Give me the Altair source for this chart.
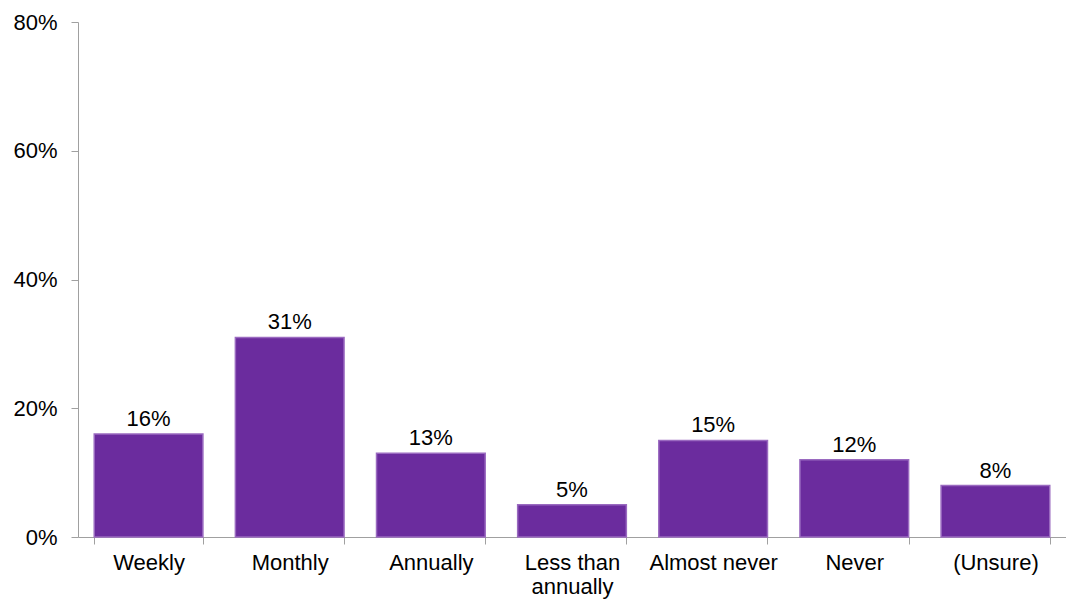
import altair as alt
import pandas as pd

categories = ["Weekly", "Monthly", "Annually", "Less than annually", "Almost never", "Never", "(Unsure)"]
values = [0.16, 0.31, 0.13, 0.05, 0.15, 0.12, 0.08]
labels = ["16%", "31%", "13%", "5%", "15%", "12%", "8%"]

df = pd.DataFrame({"cat": categories, "val": values, "lab": labels})

FONT = "Liberation Sans"

x = alt.X("cat:N", sort=categories, title=None,
          scale=alt.Scale(paddingInner=0.23, paddingOuter=0.115),
          axis=alt.Axis(labelAngle=0, labelFont=FONT, labelFontSize=22, labelColor="#000000",
                        domainColor="#a0a0a0", tickColor="#a0a0a0", tickSize=7, tickBand="extent",
                        labelPadding=8, labelLimit=300, labelLineHeight=24, grid=False,
                        labelExpr="datum.label == 'Less than annually' ? ['Less than', 'annually'] : datum.label"))
y = alt.Y("val:Q", title=None,
          scale=alt.Scale(domain=[0, 0.8]),
          axis=alt.Axis(values=[0, 0.2, 0.4, 0.6, 0.8], format=".0%", grid=False,
                        labelFont=FONT, labelFontSize=22, labelColor="#000000",
                        domainColor="#a0a0a0", tickColor="#a0a0a0", tickSize=7, labelPadding=14))

bars = alt.Chart(df).mark_bar(color="#6B2C9E", stroke="#9A6AC0", strokeWidth=1.5).encode(x=x, y=y)
text = alt.Chart(df).mark_text(font=FONT, fontSize=22, color="#000000", baseline="bottom", dy=-3).encode(
    x=alt.X("cat:N", sort=categories), y=alt.Y("val:Q"), text="lab:N")

chart = (bars + text).properties(
    width=988, height=515,
    background="#ffffff",
    autosize=alt.AutoSizeParams(type="none"),
    padding={"left": 78, "top": 22, "right": 0, "bottom": 64},
).configure_view(strokeWidth=0).configure_axis(grid=False)

chart.save("out.html", embed_options={"renderer": "svg", "actions": False})
